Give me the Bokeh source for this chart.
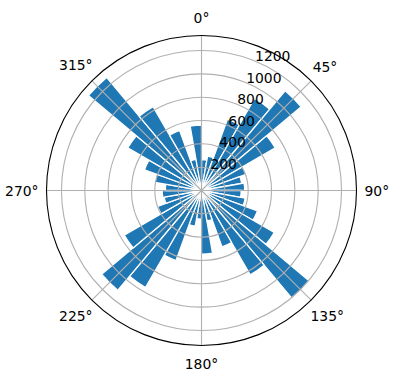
import numpy as np
from bokeh.plotting import figure
from bokeh.embed import file_html
from bokeh.resources import INLINE
from bokeh.core.properties import value

# Bin start angles (compass degrees, clockwise from north), 10-degree bins
bin_starts = list(range(0, 360, 10))
counts = [265, 300, 650, 910, 1115, 730, 405, 350, 370,
          340, 380, 510, 720, 1206, 835, 515, 265, 545,
          245, 310, 640, 960, 1117, 765, 400, 325, 337,
          310, 405, 520, 730, 1265, 830, 548, 270, 560]
bin_width = 10
ring_ticks = [200, 400, 600, 800, 1000, 1200]
theta_ticks = [0, 45, 90, 135, 180, 225, 270, 315]
theta_labels = ["0°", "45°", "90°", "135°", "180°", "225°", "270°", "315°"]

W, H = 396, 380
cx_px, cy_px = 201, 190
R_px = 155.0
rmax = 1.05 * max(counts)
u = rmax / R_px  # data units per pixel

p = figure(width=W, height=H, output_backend="svg", toolbar_location=None,
           x_range=(-cx_px * u, (W - cx_px) * u),
           y_range=(-(H - cy_px) * u, cy_px * u),
           min_border=0, outline_line_color=None)
p.axis.visible = False
p.grid.visible = False
p.background_fill_color = "white"

starts = np.array(bin_starts, dtype=float)
start_ang = np.radians(90 - starts - bin_width)
end_ang = np.radians(90 - starts)
p.wedge(x=0, y=0, radius=counts, start_angle=start_ang, end_angle=end_ang,
        fill_color="#1f77b4", line_color="white", line_width=1.3)

# grid rings
p.circle(x=[0] * len(ring_ticks), y=[0] * len(ring_ticks), radius=ring_ticks,
         fill_color=None, line_color="#b0b0b0", line_width=1.1)
# radial grid
th = np.radians(theta_ticks)
p.segment(x0=0, y0=0, x1=rmax * np.sin(th), y1=rmax * np.cos(th),
          line_color="#b0b0b0", line_width=1.1)
# outer circle
p.circle(x=[0], y=[0], radius=[rmax], fill_color=None, line_color="black", line_width=1.1)

# ring labels at 22.5 deg
a = np.radians(22.5)
p.text(x=[r * np.sin(a) for r in ring_ticks], y=[r * np.cos(a) for r in ring_ticks],
       text=[str(r) for r in ring_ticks], text_align="left", text_baseline="bottom",
       text_font=value("DejaVu Sans"), text_font_size="13.9px", text_color="black")

# theta labels
lx, ly = [], []
for t, lab in zip(theta_ticks, theta_labels):
    w = 8.8 * (len(lab) - 1) + 7
    d = 173 + 0.5 * abs(np.sin(np.radians(t))) * (w - 20)
    lx.append(d * u * np.sin(np.radians(t)))
    ly.append(d * u * np.cos(np.radians(t)))
p.text(x=lx, y=ly, text=theta_labels, text_align="center", text_baseline="middle",
       text_font=value("DejaVu Sans"), text_font_size="13.9px", text_color="black")

open("out.html", "w").write(file_html(p, INLINE))
